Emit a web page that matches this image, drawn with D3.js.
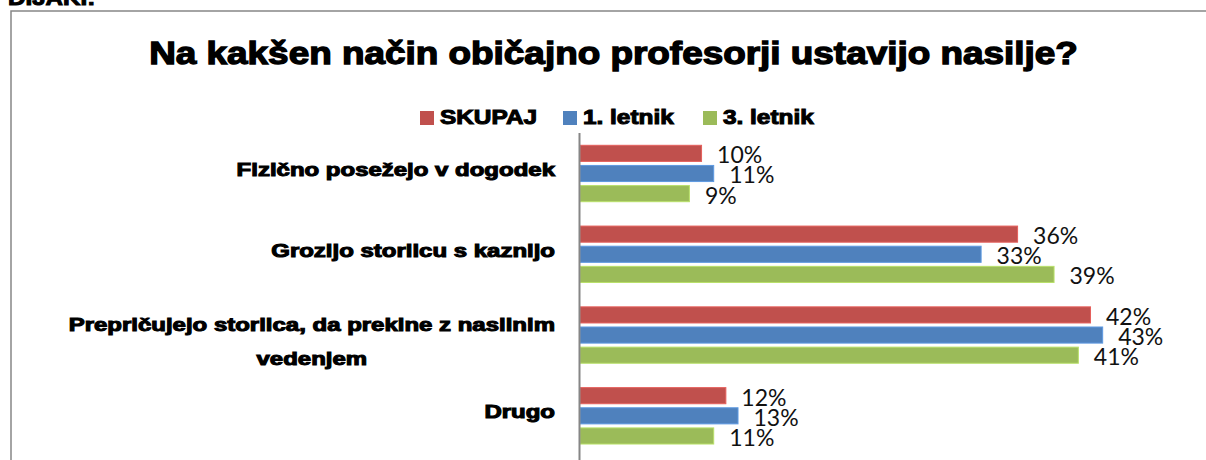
<!DOCTYPE html>
<html>
<head>
<meta charset="utf-8">
<script src="https://cdn.jsdelivr.net/npm/d3@7"></script>
<style>
  html, body { margin: 0; padding: 0; background: #fff; }
  svg { display: block; }
</style>
</head>
<body>
<svg id="chart" width="1206" height="460"></svg>
<script>
// Survey answers: how teachers usually stop violence
const categories = [
  "Fizično posežejo v dogodek",
  "Grozijo storilcu s kaznijo",
  "Prepričujejo storilca, da prekine z nasilnim vedenjem",
  "Drugo"
];
const seriesNames = ["SKUPAJ", "1. letnik", "3. letnik"];
const skupaj  = [10, 36, 42, 12];
const letnik1 = [11, 33, 43, 13];
const letnik3 = [9, 39, 41, 11];
const seriesColors = ["#C0504D", "#4F81BD", "#9BBB59"];
const title = "Na kakšen način običajno profesorji ustavijo nasilje?";
const sectionLabel = "DIJAKI:";

const seriesValues = [skupaj, letnik1, letnik3];

const svg = d3.select("#chart");
const heavy = "'Liberation Sans', Arial, sans-serif";

// Bold text widened and outlined so it reads like a black-weight face
function heavyText(sel, stretch, strokeW) {
  sel.attr("font-family", heavy)
     .attr("font-weight", "bold")
     .attr("fill", "#000")
     .attr("stroke", "#000")
     .attr("stroke-width", strokeW == null ? 1 : strokeW)
     .attr("paint-order", "stroke")
     .attr("textLength", null)
     .attr("lengthAdjust", null);
  sel.each(function() {
    const w = this.getComputedTextLength();
    d3.select(this).attr("textLength", w * stretch).attr("lengthAdjust", "spacingAndGlyphs");
  });
}

// Section heading partly cut by the top edge
svg.append("text")
  .attr("x", 8).attr("y", 5)
  .attr("font-size", 21)
  .text(sectionLabel)
  .call(heavyText, 1.15);

// Chart frame
svg.append("rect")
  .attr("x", 11).attr("y", 11)
  .attr("width", 1220).attr("height", 480)
  .attr("fill", "none")
  .attr("stroke", "#868686")
  .attr("stroke-width", 1.5);

// Title
svg.append("text")
  .attr("x", 613.5).attr("y", 64)
  .attr("text-anchor", "middle")
  .attr("font-size", 31)
  .text(title)
  .call(heavyText, 1.19, 1.3);

// Scales
const x = d3.scaleLinear().domain([0, 50]).range([580, 1187.75]);
const y = d3.scaleBand().domain(categories).range([133.1, 456.2]).paddingInner(0).paddingOuter(0);
const inner = d3.scaleBand().domain(seriesNames).range([12.2, 68.6]).paddingInner(0.2).paddingOuter(0);

// Legend
const legendX = [420, 563, 703];
const legend = svg.append("g");
seriesNames.forEach((name, i) => {
  legend.append("rect")
    .attr("x", legendX[i]).attr("y", 111)
    .attr("width", 14).attr("height", 14)
    .attr("fill", seriesColors[i]);
  legend.append("text")
    .attr("x", legendX[i] + 20).attr("y", 124)
    .attr("font-size", 19.5)
    .text(name)
    .call(heavyText, 1.25);
});

// Bars and value labels
const groups = svg.append("g").selectAll("g")
  .data(categories)
  .join("g")
  .attr("transform", d => `translate(0,${y(d)})`);

seriesNames.forEach((name, si) => {
  groups.append("rect")
    .attr("x", x(0))
    .attr("y", inner(name))
    .attr("width", (d, ci) => x(seriesValues[si][ci]) - x(0))
    .attr("height", inner.bandwidth())
    .attr("fill", seriesColors[si])
    .attr("stroke", d3.color(seriesColors[si]).brighter(0.5))
    .attr("stroke-width", 1);
  groups.append("text")
    .attr("x", (d, ci) => x(seriesValues[si][ci]) + 15.5)
    .attr("y", inner(name) + inner.bandwidth() / 2 + 10)
    .attr("font-family", "Lato, 'Open Sans', sans-serif")
    .attr("font-size", 23)
    .attr("fill", "#111")
    .text((d, ci) => seriesValues[si][ci] + "%");
});

// Vertical category axis line
svg.append("line")
  .attr("x1", x(0) - 0.5).attr("x2", x(0) - 0.5)
  .attr("y1", 133).attr("y2", 460)
  .attr("stroke", "#868686")
  .attr("stroke-width", 2);

// Category labels: wrapped, centred lines, block right edge at 555
const labelRight = 555;
const maxLineWidth = 520;
const labelSize = 17.5;
const labelStretch = 1.37;
const lineH = 33.6;
const labelG = svg.append("g");
categories.forEach(cat => {
  const words = cat.split(" ");
  const lines = [];
  let cur = "";
  const probe = labelG.append("text").attr("font-size", labelSize);
  words.forEach(w => {
    const test = cur ? cur + " " + w : w;
    probe.text(test).call(heavyText, labelStretch);
    if (+probe.attr("textLength") > maxLineWidth && cur) {
      lines.push(cur);
      cur = w;
    } else {
      cur = test;
    }
  });
  lines.push(cur);
  probe.remove();

  const cy = y(cat) + y.bandwidth() / 2;
  const texts = lines.map((ln, i) =>
    labelG.append("text")
      .attr("font-size", labelSize)
      .attr("y", cy + 2.5 - (lines.length - 1) * 6.5 + i * lineH)
      .attr("text-anchor", "middle")
      .text(ln)
      .call(heavyText, labelStretch)
  );
  const widest = d3.max(texts, t => +t.attr("textLength"));
  texts.forEach(t => t.attr("x", labelRight - widest / 2));
});
</script>
</body>
</html>
